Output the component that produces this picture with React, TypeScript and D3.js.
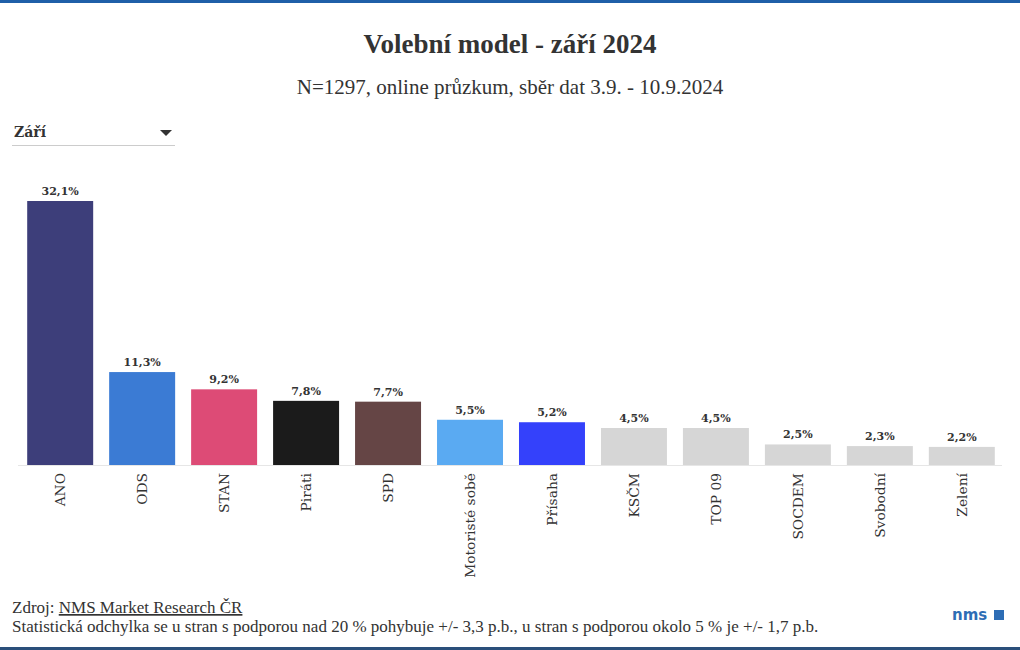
import React from "react";
import * as d3 from "d3";

const parties = ["ANO", "ODS", "STAN", "Piráti", "SPD", "Motoristé sobě", "Přísaha", "KSČM", "TOP 09", "SOCDEM", "Svobodní", "Zelení"];
const values = [32.1, 11.3, 9.2, 7.8, 7.7, 5.5, 5.2, 4.5, 4.5, 2.5, 2.3, 2.2];
const colors = ["#3d3e7a", "#3b7bd4", "#dd4b76", "#1b1b1b", "#654545", "#5aaaf2", "#3441fb", "#d6d6d6", "#d6d6d6", "#d6d6d6", "#d6d6d6", "#d6d6d6"];

const W = 1020;
const H = 650;
const serif = "'Liberation Serif', serif";
const serif2 = "'DejaVu Serif', serif";

export default function App() {
  const x = d3.scaleBand<string>().domain(parties).range([19, 1003]).paddingInner(0.195).paddingOuter(0.1);
  const baseY = 465;
  const y = d3.scaleLinear().domain([0, 32.1]).range([baseY, 201]);
  const fmt = (v: number) => v.toFixed(1).replace(".", ",") + "%";

  return (
    <svg width={W} height={H} style={{ position: "absolute", left: 0, top: 0, background: "#fff" }}>
      <rect x={0} y={0} width={W} height={3} fill="#1f5fa8" />
      <text x={510} y={53} textAnchor="middle" fontFamily={serif} fontWeight="bold" fontSize={27} fill="#333">
        Volební model - září 2024
      </text>
      <text x={510} y={94} textAnchor="middle" fontFamily={serif} fontSize={21} fill="#333">
        N=1297, online průzkum, sběr dat 3.9. - 10.9.2024
      </text>

      <text x={14} y={137} fontFamily={serif2} fontWeight="bold" fontSize={14} fill="#333">Září</text>
      <path d="M160,130 L172,130 L166,136 Z" fill="#333" />
      <line x1={12} x2={175} y1={145.5} y2={145.5} stroke="#ccc" strokeWidth={1} />

      <line x1={18} x2={1002} y1={baseY + 0.5} y2={baseY + 0.5} stroke="#e6e6e6" strokeWidth={1} />
      {parties.map((p, i) => {
        const bx = x(p) as number;
        const bw = x.bandwidth();
        return (
          <g key={p}>
            <rect x={bx} y={y(values[i])} width={bw} height={baseY - y(values[i])} fill={colors[i]} />
            <text x={bx + bw / 2} y={y(values[i]) - 6} textAnchor="middle" fontFamily={serif2} fontWeight="bold" fontSize={11} fill="#333">
              {fmt(values[i])}
            </text>
            <text
              transform={`translate(${bx + bw / 2 + 5},${baseY + 8}) rotate(-90)`}
              textAnchor="end"
              fontFamily={serif2}
              fontSize={13.8}
              fill="#333"
            >
              {p}
            </text>
          </g>
        );
      })}

      <text x={12} y={613} fontFamily={serif} fontSize={17} fill="#333">
        Zdroj: <tspan style={{ textDecoration: "underline" }}>NMS Market Research ČR</tspan>
      </text>
      <text x={12} y={632} fontFamily={serif} fontSize={17} fill="#333">
        Statistická odchylka se u stran s podporou nad 20 % pohybuje +/- 3,3 p.b., u stran s podporou okolo 5 % je +/- 1,7 p.b.
      </text>

      <text x={952} y={620} fontFamily="'DejaVu Sans', sans-serif" fontWeight="bold" fontSize={15} fill="#2d6db5">nms</text>
      <rect x={994} y={610} width={10} height={10} fill="#2d6db5" />
      <rect x={0} y={647} width={W} height={3} fill="#2a4f7a" />
    </svg>
  );
}
